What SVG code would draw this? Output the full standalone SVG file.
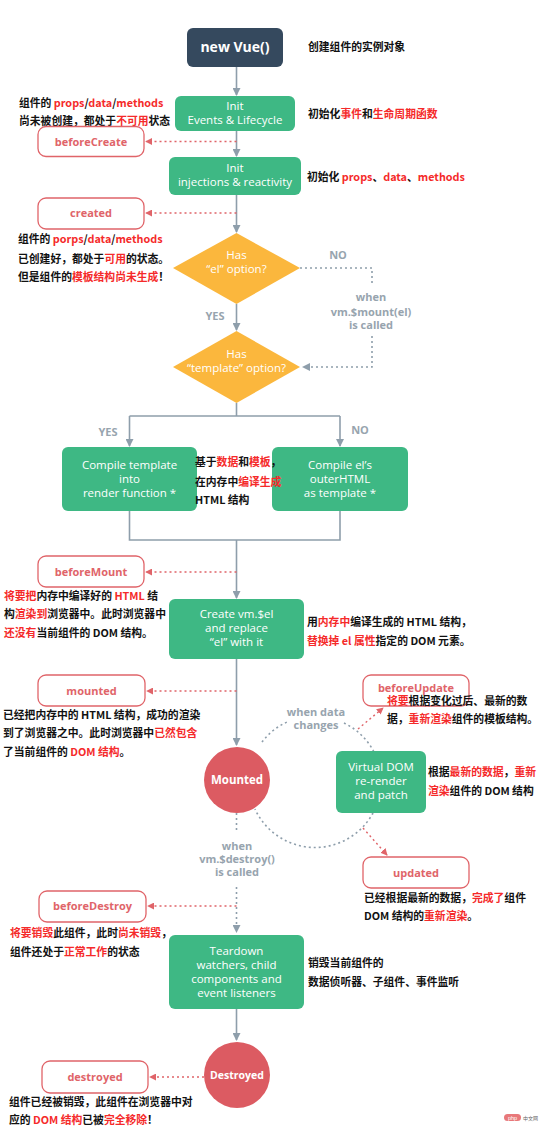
<svg xmlns="http://www.w3.org/2000/svg" width="544" height="1131" viewBox="0 0 544 1131">
<defs>
<style>
.bg{fill:#ffffff}
.dark{fill:#35495e}
.green{fill:#3eb884}
.yellow{fill:#fbb73d}
.redc{fill:#dc5b62}
.hook{fill:#ffffff;stroke:#e06469;stroke-width:1.3}
.hookt{font-family:"Open Sans","Liberation Sans",sans-serif;font-weight:bold;font-size:11px;fill:#e06469;text-anchor:middle}
.nt{font-family:"Open Sans","Liberation Sans",sans-serif;font-size:11.5px;fill:#ffffff;text-anchor:middle}
.nb{font-family:"Open Sans","Liberation Sans",sans-serif;font-weight:bold;fill:#ffffff;text-anchor:middle}
.gl{font-family:"Open Sans","Liberation Sans",sans-serif;font-weight:bold;font-size:11px;fill:#97a4ae;text-anchor:middle}
.cn{font-family:"Noto Sans CJK SC","Liberation Sans",sans-serif;font-weight:bold;font-size:10.8px;fill:#111111}
.r{fill:#f52a2a}
.line{fill:none;stroke:#8e9eab;stroke-width:1.6}
.gdot{fill:none;stroke:#8e9eab;stroke-width:1.6;stroke-dasharray:2 3}
.rdot{fill:none;stroke:#e06469;stroke-width:1.4;stroke-dasharray:2 3}
</style>
<marker id="ag" viewBox="0 0 8 8" refX="7" refY="4" markerWidth="8" markerHeight="8" markerUnits="userSpaceOnUse" orient="auto">
<path d="M0,0 L8,4 L0,8 z" fill="#8e9eab"/>
</marker>
<marker id="ar" viewBox="0 0 8 8" refX="7" refY="4" markerWidth="7" markerHeight="7" markerUnits="userSpaceOnUse" orient="auto">
<path d="M0,0 L8,4 L0,8 z" fill="#e06469"/>
</marker>
</defs>
<rect class="bg" x="0" y="0" width="544" height="1131"/>

<g id="connectors">
<path class="line" d="M236.5,67 V95" marker-end="url(#ag)"/>
<path class="line" d="M236.5,131 V156" marker-end="url(#ag)"/>
<path class="line" d="M236.5,195 V232" marker-end="url(#ag)"/>
<path class="line" d="M236.5,304 V330" marker-end="url(#ag)"/>
<path class="line" d="M236.5,403 V416 M129.5,416 H340"/>
<path class="line" d="M129.5,416 V446" marker-end="url(#ag)"/>
<path class="line" d="M340,416 V446" marker-end="url(#ag)"/>
<path class="line" d="M129.5,511 V540 H340 V511 M236.5,540 V598" marker-end="url(#ag)"/>
<path class="line" d="M236.5,659 V745" marker-end="url(#ag)"/>
<path class="line" d="M236.5,1009 V1040" marker-end="url(#ag)"/>
<path class="gdot" d="M300,268 H372 V286"/>
<path class="gdot" d="M372,336 V367 H303" marker-end="url(#ag)"/>
<path class="gdot" d="M236.5,813 V833"/>
<path class="gdot" d="M236.5,887 V932" marker-end="url(#ag)"/>
<path class="gdot" d="M262,742 A66,66 0 0 1 287,722"/>
<path class="gdot" d="M344,723 A66,66 0 0 1 374,752"/>
<path class="gdot" d="M373,813 A66,66 0 0 1 255,809"/>
<path class="rdot" d="M236.5,141.5 H146" marker-end="url(#ar)"/>
<path class="rdot" d="M236.5,213 H146" marker-end="url(#ar)"/>
<path class="rdot" d="M236.5,572 H146" marker-end="url(#ar)"/>
<path class="rdot" d="M236.5,691 H147" marker-end="url(#ar)"/>
<path class="rdot" d="M236.5,906 H148" marker-end="url(#ar)"/>
<path class="rdot" d="M204,1077 H150" marker-end="url(#ar)"/>
<path class="rdot" d="M358,729 L383,708" marker-end="url(#ar)"/>
<path class="rdot" d="M363,828 L387,855" marker-end="url(#ar)"/>
</g>

<g id="n-newvue">
<rect class="dark" x="187" y="28" width="96" height="39" rx="6"/>
<text class="nb" x="235" y="52" font-size="14">new Vue()</text>
<text class="cn" x="308" y="51">创建组件的实例对象</text>
</g>

<g id="n-init-events">
<rect class="green" x="175" y="96" width="120" height="35" rx="6"/>
<text class="nt" x="235" y="110">Init</text>
<text class="nt" x="235" y="124">Events &amp; Lifecycle</text>
<text class="cn" x="308" y="118">初始化<tspan class="r">事件</tspan>和<tspan class="r">生命周期函数</tspan></text>
<text class="cn" x="19" y="107">组件的 <tspan class="r">props</tspan>/<tspan class="r">data</tspan>/<tspan class="r">methods</tspan></text>
<text class="cn" x="19" y="125">尚未被创建，都处于<tspan class="r">不可用</tspan>状态</text>
</g>

<g id="n-beforeCreate">
<rect class="hook" x="38" y="126.5" width="106" height="30" rx="8"/>
<text class="hookt" x="91" y="145.5">beforeCreate</text>
</g>

<g id="n-init-injections">
<rect class="green" x="169" y="157" width="132" height="38" rx="6"/>
<text class="nt" x="235" y="172">Init</text>
<text class="nt" x="235" y="186">injections &amp; reactivity</text>
<text class="cn" x="307" y="181">初始化 <tspan class="r">props</tspan>、<tspan class="r">data</tspan>、<tspan class="r">methods</tspan></text>
</g>

<g id="n-created">
<rect class="hook" x="38" y="198" width="106" height="31" rx="8"/>
<text class="hookt" x="91" y="217">created</text>
<text class="cn" x="18" y="243">组件的 <tspan class="r">porps</tspan>/<tspan class="r">data</tspan>/<tspan class="r">methods</tspan></text>
<text class="cn" x="18" y="263">已创建好，都处于<tspan class="r">可用</tspan>的状态。</text>
<text class="cn" x="18" y="281">但是组件的<tspan class="r">模板结构尚未生成</tspan>！</text>
</g>

<g id="n-has-el">
<polygon class="yellow" points="236.5,233 300,268 236.5,304 173,268"/>
<text class="nt" x="236.5" y="259">Has</text>
<text class="nt" x="236.5" y="273">“el” option?</text>
<text class="gl" x="338" y="259">NO</text>
<text class="gl" x="215" y="320">YES</text>
<text class="gl" x="371" y="301">when</text>
<text class="gl" x="371" y="316">vm.$mount(el)</text>
<text class="gl" x="371" y="329">is called</text>
</g>

<g id="n-has-template">
<polygon class="yellow" points="236.5,331 300,367 236.5,403 173,367"/>
<text class="nt" x="236.5" y="358">Has</text>
<text class="nt" x="236.5" y="372">“template” option?</text>
<text class="gl" x="108" y="436">YES</text>
<text class="gl" x="360" y="434">NO</text>
</g>

<g id="n-compile-template">
<rect class="green" x="62" y="447" width="135" height="64" rx="6"/>
<text class="nt" x="129.5" y="469">Compile template</text>
<text class="nt" x="129.5" y="483">into</text>
<text class="nt" x="129.5" y="497">render function *</text>
</g>

<g id="n-compile-el">
<rect class="green" x="272" y="447" width="136" height="64" rx="6"/>
<text class="nt" x="340" y="469">Compile el’s</text>
<text class="nt" x="340" y="483">outerHTML</text>
<text class="nt" x="340" y="497">as template *</text>
</g>

<g id="n-compile-note">
<text class="cn" x="195" y="466">基于<tspan class="r">数据</tspan>和<tspan class="r">模板</tspan>，</text>
<text class="cn" x="195" y="486">在内存中<tspan class="r">编译生成</tspan></text>
<text class="cn" x="195" y="504">HTML 结构</text>
</g>

<g id="n-beforeMount">
<rect class="hook" x="38" y="556" width="106" height="31" rx="8"/>
<text class="hookt" x="91" y="576">beforeMount</text>
<text class="cn" x="4" y="600"><tspan class="r">将要把</tspan>内存中编译好的 <tspan class="r">HTML</tspan> 结</text>
<text class="cn" x="4" y="618">构<tspan class="r">渲染到</tspan>浏览器中。此时浏览器中</text>
<text class="cn" x="4" y="637"><tspan class="r">还没有</tspan>当前组件的 DOM 结构。</text>
</g>

<g id="n-create-el">
<rect class="green" x="169" y="599" width="135" height="60" rx="6"/>
<text class="nt" x="236.5" y="618">Create vm.$el</text>
<text class="nt" x="236.5" y="632">and replace</text>
<text class="nt" x="236.5" y="646">“el” with it</text>
<text class="cn" x="307" y="626">用<tspan class="r">内存中</tspan>编译生成的 HTML 结构，</text>
<text class="cn" x="307" y="645"><tspan class="r">替换掉 el 属性</tspan>指定的 DOM 元素。</text>
</g>

<g id="n-mounted-hook">
<rect class="hook" x="38" y="675" width="107" height="31" rx="8"/>
<text class="hookt" x="91.5" y="695">mounted</text>
<text class="cn" x="3" y="719">已经把内存中的 HTML 结构，成功的渲染</text>
<text class="cn" x="3" y="737">到了浏览器之中。此时浏览器中<tspan class="r">已然包含</tspan></text>
<text class="cn" x="3" y="756">了当前组件的 <tspan class="r">DOM 结构</tspan>。</text>
</g>

<g id="n-mounted">
<circle class="redc" cx="237" cy="780" r="33"/>
<text class="nb" x="237" y="784" font-size="11.5">Mounted</text>
<text class="gl" x="316" y="716">when data</text>
<text class="gl" x="316" y="729">changes</text>
<text class="gl" x="237" y="850">when</text>
<text class="gl" x="237" y="863">vm.$destroy()</text>
<text class="gl" x="237" y="876">is called</text>
</g>

<g id="n-beforeUpdate">
<rect class="hook" x="363" y="675" width="106" height="31" rx="8"/>
<text class="hookt" x="416" y="692">beforeUpdate</text>
<text class="cn" x="387" y="705"><tspan class="r">将要</tspan>根据变化过后、最新的数</text>
<text class="cn" x="387" y="723">据，<tspan class="r">重新渲染</tspan>组件的模板结构。</text>
</g>

<g id="n-vdom">
<rect class="green" x="336" y="751" width="90" height="62" rx="6"/>
<text class="nt" x="381" y="771">Virtual DOM</text>
<text class="nt" x="381" y="785">re-render</text>
<text class="nt" x="381" y="799">and patch</text>
<text class="cn" x="428" y="776">根据<tspan class="r">最新的数据</tspan>，<tspan class="r">重新</tspan></text>
<text class="cn" x="428" y="795"><tspan class="r">渲染</tspan>组件的 DOM 结构</text>
</g>

<g id="n-updated">
<rect class="hook" x="363" y="857" width="106" height="31" rx="8"/>
<text class="hookt" x="416" y="877">updated</text>
<text class="cn" x="364" y="902">已经根据最新的数据，<tspan class="r">完成了</tspan>组件</text>
<text class="cn" x="364" y="920">DOM 结构的<tspan class="r">重新渲染</tspan>。</text>
</g>

<g id="n-beforeDestroy">
<rect class="hook" x="39" y="891" width="107" height="31" rx="8"/>
<text class="hookt" x="92.5" y="910">beforeDestroy</text>
<text class="cn" x="10" y="937"><tspan class="r">将要销毁</tspan>此组件，此时<tspan class="r">尚未销毁</tspan>，</text>
<text class="cn" x="10" y="956">组件还处于<tspan class="r">正常工作</tspan>的状态</text>
</g>

<g id="n-teardown">
<rect class="green" x="169" y="935" width="135" height="74" rx="6"/>
<text class="nt" x="236.5" y="955">Teardown</text>
<text class="nt" x="236.5" y="969">watchers, child</text>
<text class="nt" x="236.5" y="983">components and</text>
<text class="nt" x="236.5" y="997">event listeners</text>
<text class="cn" x="308" y="967">销毁当前组件的</text>
<text class="cn" x="308" y="986">数据侦听器、子组件、事件监听</text>
</g>

<g id="n-destroyed">
<circle class="redc" cx="237" cy="1075" r="33"/>
<text class="nb" x="237" y="1079" font-size="10.5">Destroyed</text>
</g>

<g id="n-destroyed-hook">
<rect class="hook" x="42" y="1061" width="106" height="32" rx="8"/>
<text class="hookt" x="95" y="1081">destroyed</text>
<text class="cn" x="9" y="1106">组件已经被销毁，此组件在浏览器中对</text>
<text class="cn" x="9" y="1124">应的 <tspan class="r">DOM 结构</tspan>已被<tspan class="r">完全移除</tspan>！</text>
</g>

<g id="watermark">
<rect x="504" y="1114" width="17" height="7" rx="3.5" fill="#e8787a"/>
<text x="512.5" y="1119.5" font-family="'Liberation Sans',sans-serif" font-size="5.5" fill="#ffffff" text-anchor="middle">php</text>
<text x="523" y="1120" font-family="'Noto Sans CJK SC',sans-serif" font-size="5" fill="#666666">中文网</text>
</g>
</svg>
